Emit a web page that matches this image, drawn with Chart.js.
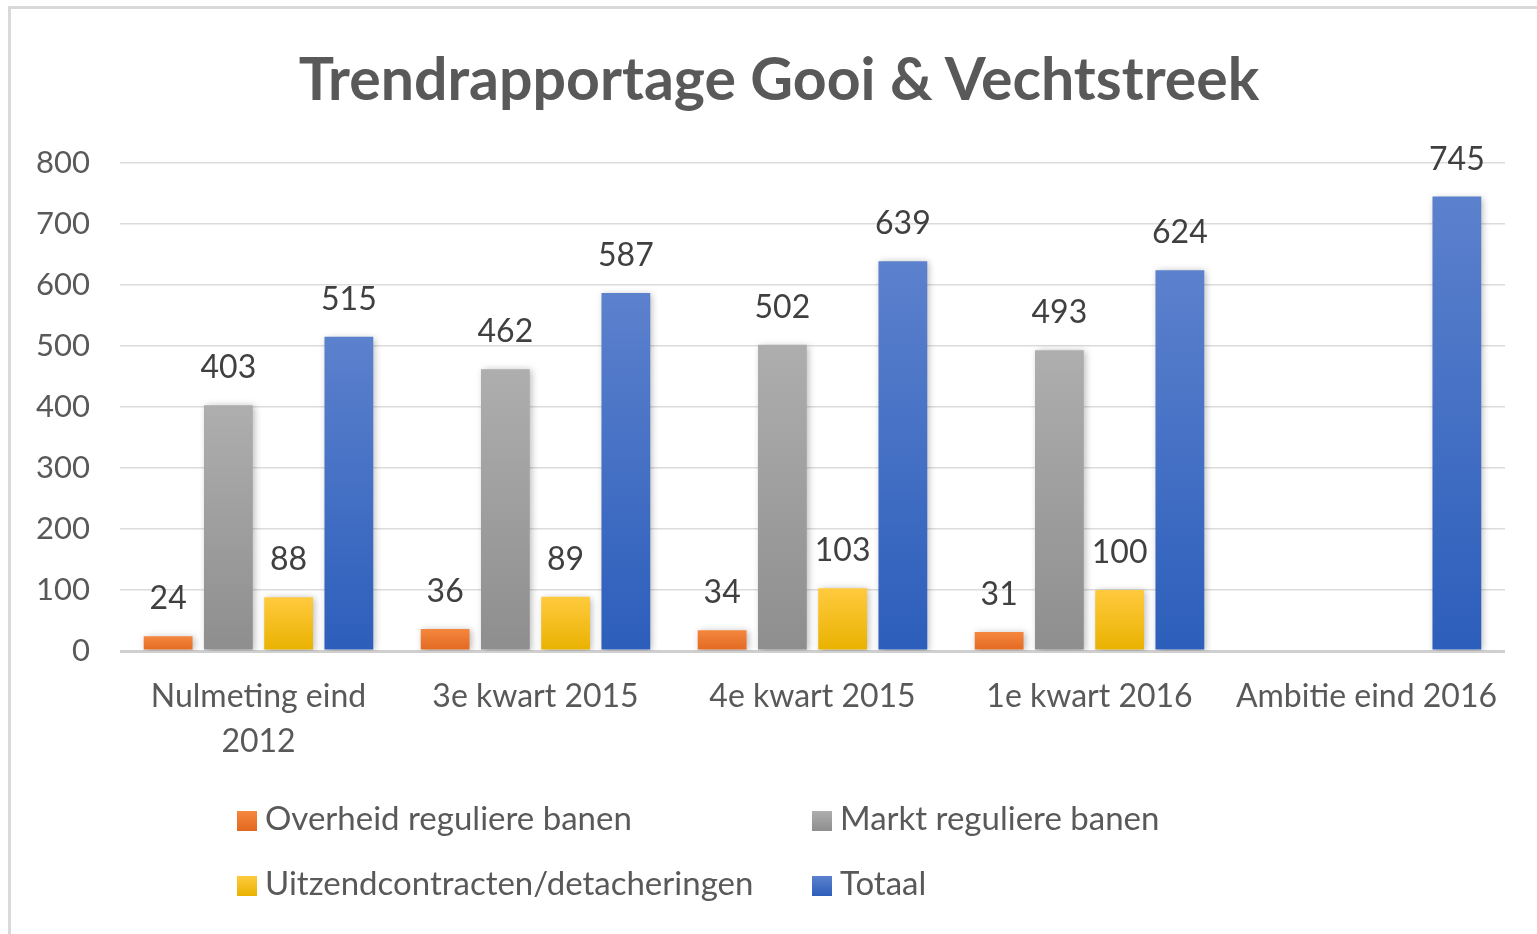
<!DOCTYPE html>
<html>
<head>
<meta charset="utf-8">
<script src="https://cdn.jsdelivr.net/npm/chart.js@4"></script>
<style>
    html, body { margin: 0; padding: 0; background: #ffffff; }
    body { width: 1537px; height: 934px; position: relative; overflow: hidden; font-family: Lato, 'Liberation Sans', sans-serif; }
    .frame { position: absolute; left: 8px; top: 6px; width: 1600px; height: 1000px; border-left: 3px solid #d9d9d9; border-top: 3px solid #d9d9d9; }
    .title { position: absolute; left: 0; top: 42px; width: 1558px; text-align: center; font-size: 59px; font-weight: 700; color: #595959; line-height: 72px; }
    .wrap { position: absolute; left: 0; top: 0; width: 1537px; height: 934px; }
    .legend-item { position: absolute; font-size: 33px; color: #595959; line-height: 38px; white-space: nowrap; }
    .legend-item i { display: inline-block; width: 20px; height: 20px; margin-right: 8px; vertical-align: -1px; }
</style>
</head>
<body>
<div class="frame"></div>
<div class="wrap"><canvas id="chart"></canvas></div>
<div class="title">Trendrapportage Gooi &amp; Vechtstreek</div>
<div id="legend"></div>

<script>
// ── data ────────────────────────────────────────────────
const categories = [['Nulmeting eind', '2012'], '3e kwart 2015', '4e kwart 2015', '1e kwart 2016', 'Ambitie eind 2016'];
const seriesNames = ['Overheid reguliere banen', 'Markt reguliere banen', 'Uitzendcontracten/detacheringen', 'Totaal'];
const overheid = [24, 36, 34, 31, null];
const markt    = [403, 462, 502, 493, null];
const uitzend  = [88, 89, 103, 100, null];
const totaal   = [515, 587, 639, 624, 745];
const yTicks   = [0, 100, 200, 300, 400, 500, 600, 700, 800];

// top / bottom colours of each bar gradient
const shades = [
    ['#f5873f', '#e2681f'],
    ['#aeaeae', '#8e8e8e'],
    ['#ffca3e', '#e9b200'],
    ['#5c81cd', '#2c5ebb'],
];

const font = (size, lineHeight) => ({ family: 'Lato', size, lineHeight: lineHeight || 1.2 });

function barFill(idx) {
    return ctx => {
        const chart = ctx.chart;
        const area = chart.chartArea;
        if (!area || ctx.raw == null) return shades[idx][1];
        const y = chart.scales.y;
        const top = y.getPixelForValue(ctx.raw);
        const bottom = y.getPixelForValue(0);
        const g = chart.ctx.createLinearGradient(0, top, 0, bottom);
        g.addColorStop(0, shades[idx][0]);
        g.addColorStop(1, shades[idx][1]);
        return g;
    };
}

// soft shadow behind the bars + value labels above them
const barExtras = {
    id: 'barExtras',
    beforeDatasetsDraw(chart) {
        const c = chart.ctx;
        c.save();
        c.shadowColor = 'rgba(0,0,0,0.28)';
        c.shadowBlur = 7;
        c.shadowOffsetX = 2;
        c.shadowOffsetY = 1;
    },
    afterDatasetsDraw(chart) {
        const c = chart.ctx;
        c.restore();
        c.save();
        c.font = '32px Lato';
        c.fillStyle = '#404040';
        c.textAlign = 'center';
        c.textBaseline = 'alphabetic';
        chart.data.datasets.forEach((ds, i) => {
            const meta = chart.getDatasetMeta(i);
            meta.data.forEach((bar, j) => {
                const v = ds.data[j];
                if (v == null) return;
                c.fillText(String(v), bar.x, bar.y - 27);
            });
        });
        c.restore();
    },
};

const datasets = [overheid, markt, uitzend, totaal].map((data, i) => ({
    label: seriesNames[i],
    data,
    backgroundColor: barFill(i),
    borderWidth: 0,
    categoryPercentage: 0.87,
    barPercentage: 0.81,
}));

new Chart(document.getElementById('chart'), {
    type: 'bar',
    data: { labels: categories, datasets },
    plugins: [barExtras],
    options: {
        responsive: true, maintainAspectRatio: false,
        animation: false,
        layout: { padding: { left: 0, right: 32, top: 163, bottom: 163 } },
        plugins: {
            legend: { display: false },
            title: { display: false },
            tooltip: { enabled: false },
        },
        scales: {
            x: {
                grid: { display: false },
                border: { display: false },
                ticks: { font: font(32, 1.38), color: '#595959', padding: 16, maxRotation: 0, autoSkip: false },
                afterFit: s => { s.height = 120; },
            },
            y: {
                min: 0, max: 800,
                afterBuildTicks: s => { s.ticks = yTicks.map(v => ({ value: v })); },
                border: { display: false },
                grid: {
                    drawTicks: false,
                    color: c => c.tick && c.tick.value === 0 ? '#cfcfcf' : '#dcdcdc',
                    lineWidth: c => c.tick && c.tick.value === 0 ? 3 : 1.5,
                },
                ticks: { font: font(31), color: '#595959', padding: 30 },
                afterFit: s => { s.width = 120; },
            },
        },
    },
});

// legend, two columns like the original
const legendPos = [[237, 798], [812, 798], [237, 863], [812, 863]];
const legend = document.getElementById('legend');
seriesNames.forEach((name, i) => {
    const el = document.createElement('div');
    el.className = 'legend-item';
    el.style.left = legendPos[i][0] + 'px';
    el.style.top = legendPos[i][1] + 'px';
    el.innerHTML = `<i style="background:linear-gradient(${shades[i][0]},${shades[i][1]})"></i>${name}`;
    legend.appendChild(el);
});
</script>
</body>
</html>
